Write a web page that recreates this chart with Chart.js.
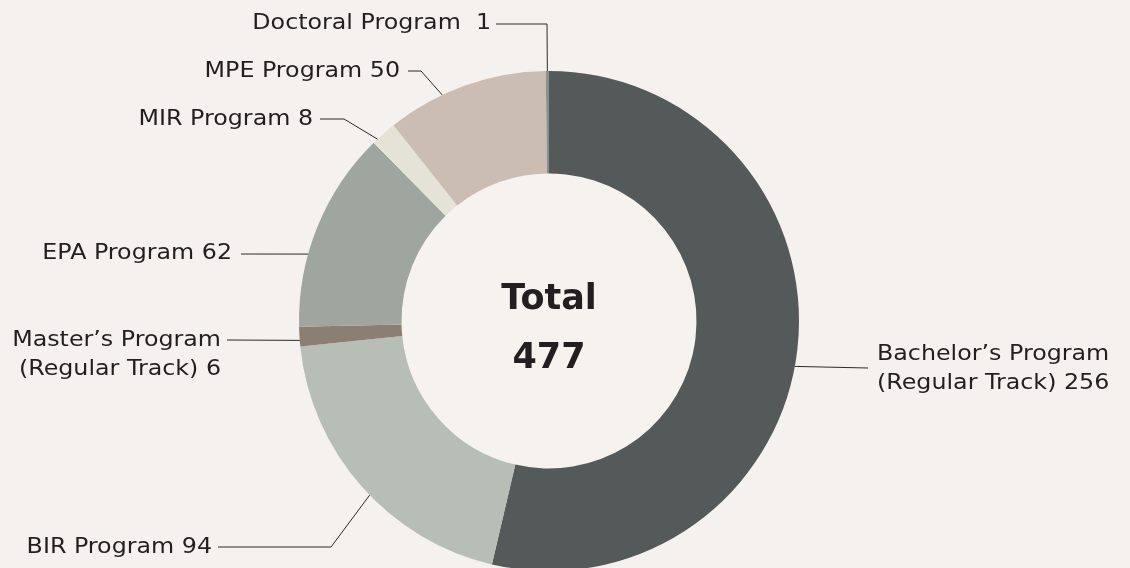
<!DOCTYPE html>
<html>
<head>
<meta charset="utf-8">
<script src="https://cdn.jsdelivr.net/npm/chart.js@4.4.1/dist/chart.umd.min.js"></script>
<style>
  html, body { margin: 0; padding: 0; background: #f4f1ee; }
  #wrap { width: 1130px; height: 568px; overflow: hidden; position: relative; }
  canvas { display: block; }
</style>
</head>
<body>
<div id="wrap"><canvas id="chart" width="1130" height="642"></canvas></div>
<script>
// data, clockwise from 12 o'clock
const programs = [
  ["Bachelor’s Program", "(Regular Track) 256"],
  "BIR Program 94",
  ["Master’s Program", "(Regular Track) 6"],
  "EPA Program 62",
  "MIR Program 8",
  "MPE Program 50",
  "Doctoral Program  1"
];
const students = [256, 94, 6, 62, 8, 50, 1];
const sliceColors = ['#545a59', '#b7beb5', '#8c7e70', '#9fa59f', '#e5e3d8', '#cbbdb1', '#8a908f'];

// where each callout sits (t = fraction along the slice, rf = fraction of outer radius)
const callouts = [
  { t: 0.52, rf: 1.0, elbow: null, lineEnd: [868, 368], tx: 877, ty: 354, align: 'left' },
  { t: 0.46, rf: 1.0, elbow: [331, 547], lineEnd: [218, 547], tx: 212, ty: 547, align: 'right' },
  { t: 0.31, rf: 1.0, elbow: null, lineEnd: [227, 340], tx: 221, ty: 340, align: 'right' },
  { t: 0.36, rf: 1.0, elbow: null, lineEnd: [241, 254], tx: 232, ty: 253, align: 'right' },
  { t: 0.2, rf: 1.0, elbow: [344, 119], lineEnd: [320, 119], tx: 313, ty: 119, align: 'right' },
  { t: 0.35, rf: 1.0, elbow: [421, 71], lineEnd: [408, 71], tx: 400, ty: 71, align: 'right' },
  { t: 0.5, rf: 1.0, elbow: [547, 24], lineEnd: [496, 24], tx: 491, ty: 23, align: 'right' }
];

const FONT = '"DejaVu Sans", sans-serif';

// stretch a little so the label widths come near the original's wide typeface
function wideText(ctx, s, x, y) {
  ctx.save();
  ctx.translate(x, y);
  ctx.scale(1.08, 1);
  ctx.fillText(s, 0, 0);
  ctx.restore();
}

const calloutPlugin = {
  id: 'callouts',
  beforeDatasetsDraw(chart) {
    const arc = chart.getDatasetMeta(0).data[0];
    const ctx = chart.ctx;
    ctx.save();
    ctx.fillStyle = '#f6f3ef';
    ctx.beginPath();
    ctx.arc(arc.x, arc.y, arc.innerRadius, 0, Math.PI * 2);
    ctx.fill();
    ctx.restore();
  },
  afterDatasetsDraw(chart) {
    const ctx = chart.ctx;
    const arcs = chart.getDatasetMeta(0).data;
    ctx.save();
    ctx.strokeStyle = '#2b2b2b';
    ctx.lineWidth = 1;
    ctx.fillStyle = '#231f20';
    ctx.font = '22px ' + FONT;
    ctx.textBaseline = 'middle';
    arcs.forEach((a, i) => {
      const c = callouts[i];
      const ang = a.startAngle + (a.endAngle - a.startAngle) * c.t;
      const px = a.x + Math.cos(ang) * a.outerRadius * c.rf;
      const py = a.y + Math.sin(ang) * a.outerRadius * c.rf;
      ctx.beginPath();
      ctx.moveTo(px, py);
      if (c.elbow) ctx.lineTo(c.elbow[0], c.elbow[1]);
      ctx.lineTo(c.lineEnd[0], c.lineEnd[1]);
      ctx.stroke();
      ctx.textAlign = c.align;
      const lines = Array.isArray(programs[i]) ? programs[i] : [programs[i]];
      lines.forEach((s, k) => wideText(ctx, s, c.tx, c.ty + k * 29));
    });
    // centre total
    const a0 = arcs[0];
    const total = students.reduce((s, v) => s + v, 0);
    ctx.textAlign = 'center';
    ctx.font = 'bold 35px ' + FONT;
    ctx.fillText('Total', a0.x, a0.y - 21);
    ctx.fillText(String(total), a0.x, a0.y + 38);
    ctx.restore();
  }
};

new Chart(document.getElementById('chart'), {
  type: 'doughnut',
  data: {
    labels: programs,
    datasets: [{
      data: students,
      backgroundColor: sliceColors,
      borderWidth: 0
    }]
  },
  options: {
    responsive: false,
    animation: false,
    cutout: '59%',
    layout: { padding: { top: 71, bottom: 71, left: 0, right: 32 } },
    plugins: {
      legend: { display: false },
      tooltip: { enabled: false }
    }
  },
  plugins: [calloutPlugin]
});
</script>
</body>
</html>
